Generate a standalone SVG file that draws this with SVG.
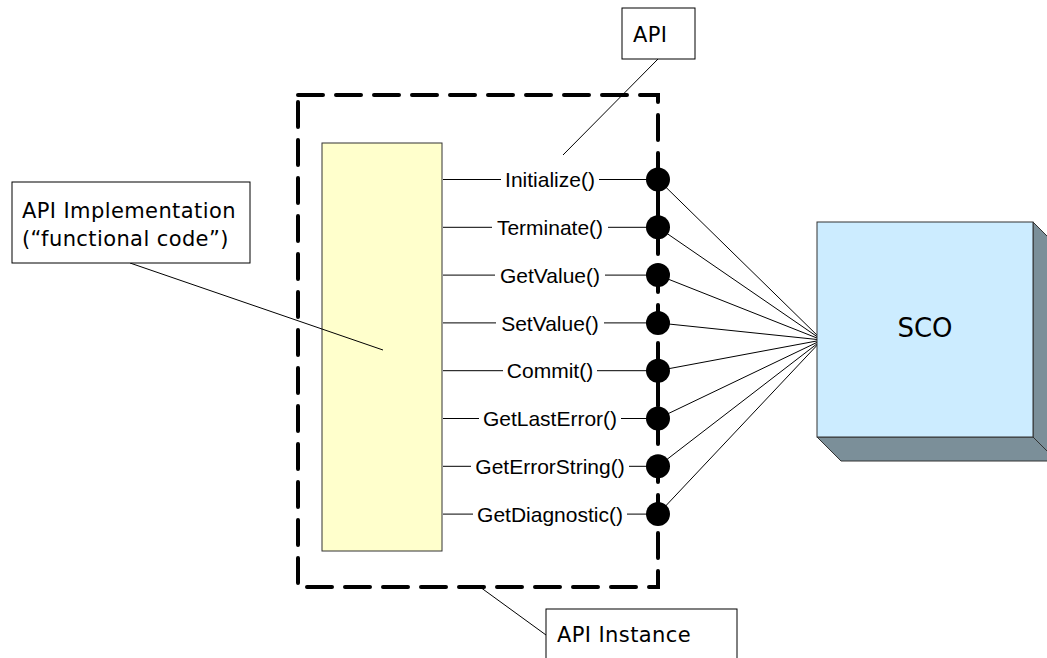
<svg xmlns="http://www.w3.org/2000/svg" width="1047" height="658" viewBox="0 0 1047 658">
<style>
.m{font-family:"Liberation Sans",Arial,sans-serif;font-size:21px;fill:#000;text-anchor:middle}
.v{font-family:"DejaVu Sans",Verdana,sans-serif;font-size:21px;fill:#000;letter-spacing:0.4px}
.ln{stroke:#000;stroke-width:1;fill:none}
.box{fill:#fff;stroke:#000;stroke-width:1}
.dot{fill:#000}
</style>
<rect width="1047" height="658" fill="#fff"/>
<g id="impl">
<rect x="322" y="143" width="120" height="408" fill="#FFFFCC" stroke="#333" stroke-width="1"/>
</g>
<g id="instance">
<rect x="298" y="95" width="360" height="492" fill="none" stroke="#000" stroke-width="4" stroke-dasharray="25 13" stroke-linecap="round"/>
</g>
<g id="connectors">
<line class="ln" x1="443" y1="179.5" x2="501" y2="179.5"/><line class="ln" x1="599" y1="179.5" x2="658" y2="179.5"/>
<line class="ln" x1="443" y1="227.3" x2="492" y2="227.3"/><line class="ln" x1="608" y1="227.3" x2="658" y2="227.3"/>
<line class="ln" x1="443" y1="275.1" x2="495" y2="275.1"/><line class="ln" x1="605" y1="275.1" x2="658" y2="275.1"/>
<line class="ln" x1="443" y1="322.9" x2="496" y2="322.9"/><line class="ln" x1="604" y1="322.9" x2="658" y2="322.9"/>
<line class="ln" x1="443" y1="370.7" x2="503" y2="370.7"/><line class="ln" x1="597" y1="370.7" x2="658" y2="370.7"/>
<line class="ln" x1="443" y1="418.5" x2="479" y2="418.5"/><line class="ln" x1="621" y1="418.5" x2="658" y2="418.5"/>
<line class="ln" x1="443" y1="466.3" x2="471" y2="466.3"/><line class="ln" x1="629" y1="466.3" x2="658" y2="466.3"/>
<line class="ln" x1="443" y1="514.1" x2="473" y2="514.1"/><line class="ln" x1="627" y1="514.1" x2="658" y2="514.1"/>
<line class="ln" x1="658" y1="179.5" x2="822" y2="340"/>
<line class="ln" x1="658" y1="227.3" x2="822" y2="340"/>
<line class="ln" x1="658" y1="275.1" x2="822" y2="340"/>
<line class="ln" x1="658" y1="322.9" x2="822" y2="340"/>
<line class="ln" x1="658" y1="370.7" x2="822" y2="340"/>
<line class="ln" x1="658" y1="418.5" x2="822" y2="340"/>
<line class="ln" x1="658" y1="466.3" x2="822" y2="340"/>
<line class="ln" x1="658" y1="514.1" x2="822" y2="340"/>
<line class="ln" x1="658" y1="59" x2="563" y2="155"/>
<line class="ln" x1="130" y1="263" x2="383" y2="350"/>
<line class="ln" x1="480" y1="587" x2="546" y2="635"/>
</g>
<g id="methods">
<text class="m" x="550" y="187">Initialize()</text>
<text class="m" x="550" y="235">Terminate()</text>
<text class="m" x="550" y="282.5">GetValue()</text>
<text class="m" x="550" y="330.5">SetValue()</text>
<text class="m" x="550" y="378">Commit()</text>
<text class="m" x="550" y="426">GetLastError()</text>
<text class="m" x="550" y="474">GetErrorString()</text>
<text class="m" x="550" y="521.5">GetDiagnostic()</text>
</g>
<g id="ports">
<circle class="dot" cx="658" cy="179.5" r="12"/>
<circle class="dot" cx="658" cy="227.3" r="12"/>
<circle class="dot" cx="658" cy="275.1" r="12"/>
<circle class="dot" cx="658" cy="322.9" r="12"/>
<circle class="dot" cx="658" cy="370.7" r="12"/>
<circle class="dot" cx="658" cy="418.5" r="12"/>
<circle class="dot" cx="658" cy="466.3" r="12"/>
<circle class="dot" cx="658" cy="514.1" r="12"/>
</g>
<g id="sco">
<polygon points="1033,222 1057,246 1057,461 1033,437" fill="#7B8F99" stroke="#333" stroke-width="1"/>
<polygon points="817,437 1033,437 1057,461 841,461" fill="#7B8F99" stroke="#333" stroke-width="1"/>
<rect x="817" y="222" width="216" height="215" fill="#CCECFF" stroke="#333" stroke-width="1"/>
<text class="v" x="925" y="337" text-anchor="middle" style="font-size:26px;letter-spacing:0">SCO</text>
</g>
<g id="api-label">
<rect class="box" x="622" y="8" width="73" height="51"/>
<text class="v" x="633" y="42">API</text>
</g>
<g id="impl-label">
<rect class="box" x="12" y="182" width="238" height="81"/>
<text class="v" x="22" y="218">API Implementation</text>
<text class="v" x="22" y="246">(“functional code”)</text>
</g>
<g id="instance-label">
<rect class="box" x="546" y="609" width="191" height="60"/>
<text class="v" x="557" y="642">API Instance</text>
</g>
</svg>
